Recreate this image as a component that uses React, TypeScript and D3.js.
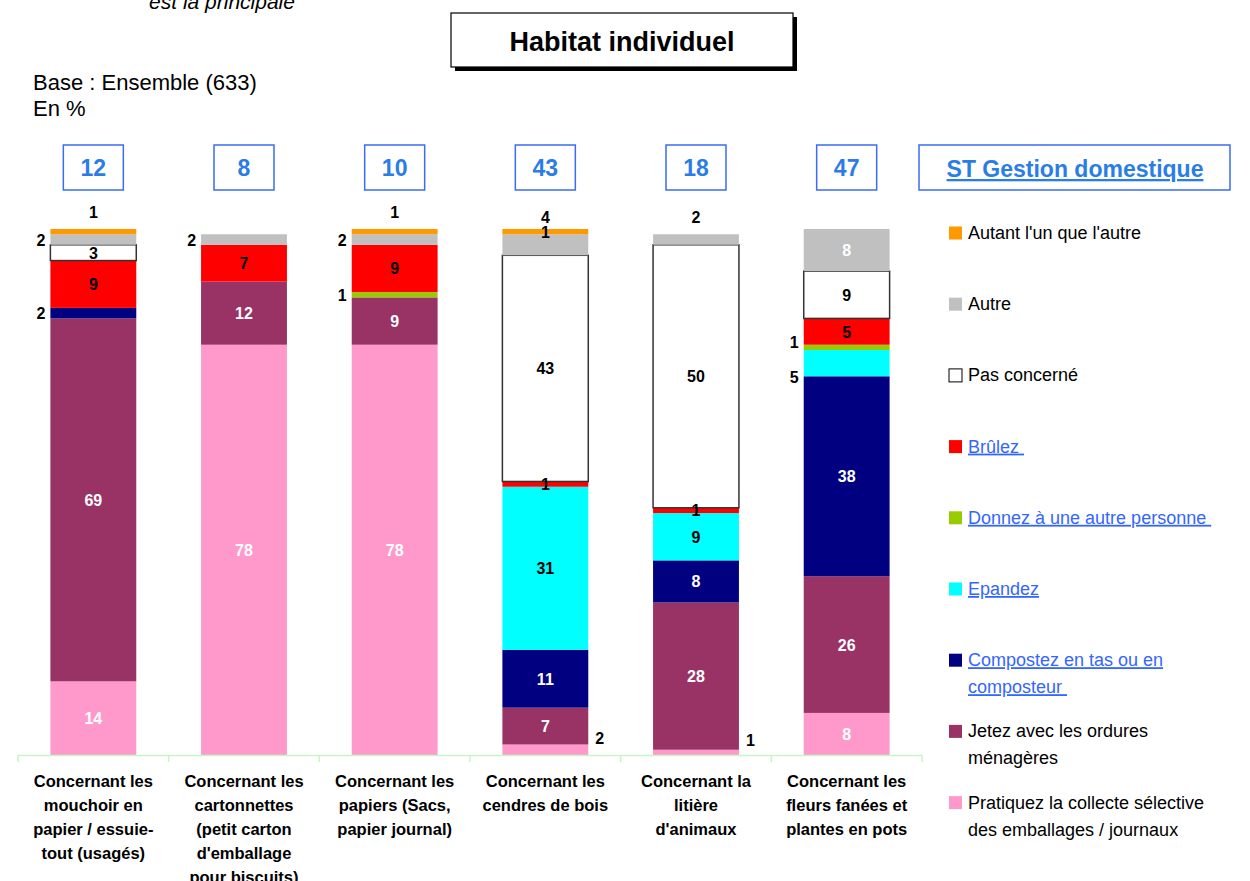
import React from 'react'
import * as d3 from 'd3'

// categories (x axis), one label line per entry
const categories = [
  ['Concernant les', 'mouchoir en', 'papier / essuie-', 'tout (usagés)'],
  ['Concernant les', 'cartonnettes', '(petit carton', "d'emballage", 'pour biscuits)'],
  ['Concernant les', 'papiers (Sacs,', 'papier journal)'],
  ['Concernant les', 'cendres de bois'],
  ['Concernant la', 'litière', "d'animaux"],
  ['Concernant les', 'fleurs fanées et', 'plantes en pots'],
]

// ST Gestion domestique values (boxes on top)
const stGestion = [12, 8, 10, 43, 18, 47]

// series values, stacked bottom -> top
const pratiquez = [14, 78, 78, 2, 1, 8]
const jetez = [69, 12, 9, 7, 28, 26]
const compostez = [2, 0, 0, 11, 8, 38]
const epandez = [0, 0, 0, 31, 9, 5]
const donnez = [0, 0, 1, 0, 0, 1]
const brulez = [9, 7, 9, 1, 1, 5]
const pasConcerne = [3, 0, 0, 43, 50, 9]
const autre = [2, 2, 2, 4, 2, 8]
const autant = [1, 0, 1, 1, 0, 0]

const seriesNames = [
  'Pratiquez la collecte sélective des emballages / journaux',
  'Jetez avec les ordures ménagères',
  'Compostez en tas ou en composteur ',
  'Epandez',
  'Donnez à une autre personne',
  'Brûlez ',
  'Pas concerné',
  'Autre',
  "Autant l'un que l'autre",
]
const seriesValues = [pratiquez, jetez, compostez, epandez, donnez, brulez, pasConcerne, autre, autant]
const colors = ['#ff99cc', '#993366', '#000080', '#00ffff', '#99cc00', '#ff0000', '#ffffff', '#c0c0c0', '#ff9900']
const labelColors = ['#fff', '#fff', '#fff', '#000', '#000', '#000', '#000', '#fff', '#000']
const linked = [false, false, true, true, true, true, false, false, false]

// legend, top -> bottom, with wrapped lines
const legendLines = [
  ["Autant l'un que l'autre"],
  ['Autre'],
  ['Pas concerné'],
  ['Brûlez '],
  ['Donnez à une autre personne '],
  ['Epandez'],
  ['Compostez en tas ou en', 'composteur '],
  ['Jetez avec les ordures', 'ménagères'],
  ['Pratiquez la collecte sélective', 'des emballages / journaux'],
]

// where the small labels sit: key "category-series"
const labelPlace: Record<string, { pos: string; dy?: number }> = {
  '0-2': { pos: 'left' }, '0-7': { pos: 'left' }, '0-8': { pos: 'above' },
  '1-7': { pos: 'left' },
  '2-4': { pos: 'left' }, '2-7': { pos: 'left' }, '2-8': { pos: 'above' },
  '3-0': { pos: 'right', dy: -12 }, '3-7': { pos: 'above' }, '3-8': { pos: 'inside' },
  '4-0': { pos: 'right', dy: -12 }, '4-7': { pos: 'above' },
  '5-3': { pos: 'left', dy: 14 }, '5-4': { pos: 'left', dy: -5 },
}

const FONT = "'Liberation Sans', Arial, Helvetica, sans-serif"
const BLUE = '#3a6cf4'
const BLUE_TXT = '#2a7de6'

export default function App() {
  const width = 1250
  const height = 881
  const x = d3.scaleBand<number>()
    .domain(d3.range(categories.length))
    .range([18, 922])
    .paddingInner(0.43)
    .paddingOuter(0.215)
  const y = d3.scaleLinear().domain([0, 100]).range([755, 229])

  const stackData = categories.map((_, i) => {
    const row: Record<string, number> = {}
    seriesValues.forEach((s, k) => { row['s' + k] = s[i] })
    return row
  })
  const stack = d3.stack<Record<string, number>>().keys(seriesValues.map((_, k) => 's' + k))
  const layers = stack(stackData)
  const step = x.step()
  const bw = x.bandwidth()

  return (
    <svg width={width} height={height} style={{ position: 'absolute', left: 0, top: 0, background: '#fff' }} fontFamily={FONT}>
      <text x={222} y={9} fontSize={21} fontStyle="italic" textAnchor="middle">est la principale</text>

      {/* title box */}
      <rect x={455} y={17} width={342} height={54} fill="#000" />
      <rect x={451} y={13} width={342} height={54} fill="#fff" stroke="#000" strokeWidth={1.2} />
      <text x={622} y={51} fontSize={27} fontWeight="bold" textAnchor="middle">Habitat individuel</text>

      <text x={33} y={90} fontSize={22}>Base : Ensemble (633)</text>
      <text x={33} y={116} fontSize={22}>En %</text>

      {/* ST boxes */}
      {stGestion.map((v, i) => {
        const cx = x(i)! + bw / 2
        return (
          <g key={'st' + i}>
            <rect x={cx - 30} y={145} width={60} height={45} fill="#fff" stroke={BLUE} strokeWidth={1.5} />
            <text x={cx} y={176} fontSize={23} fontWeight="bold" fill={BLUE_TXT} textAnchor="middle">{v}</text>
          </g>
        )
      })}
      <rect x={919} y={145} width={311} height={45} fill="#fff" stroke={BLUE} strokeWidth={1.5} />
      <text x={1075} y={177} fontSize={23} fontWeight="bold" fill={BLUE_TXT} textAnchor="middle" textDecoration="underline">ST Gestion domestique</text>

      {/* bars */}
      {layers.map((layer, k) => layer.map((d, i) => {
        const v = seriesValues[k][i]
        if (!v) return null
        return (
          <rect key={`b${k}-${i}`} x={x(i)} y={y(d[1])} width={bw} height={y(d[0]) - y(d[1])}
            fill={colors[k]} stroke={k === 6 ? '#333' : 'none'} strokeWidth={k === 6 ? 1.5 : 0} />
        )
      }))}

      {/* value labels */}
      {layers.map((layer, k) => layer.map((d, i) => {
        const v = seriesValues[k][i]
        if (!v) return null
        const place = labelPlace[`${i}-${k}`] || { pos: 'inside' }
        const cx = x(i)! + bw / 2
        const cy = (y(d[0]) + y(d[1])) / 2
        let tx = cx, ty = cy + 6, anchor = 'middle', fill = labelColors[k]
        if (place.pos === 'left') { tx = x(i)! - 5; anchor = 'end'; fill = '#000' }
        if (place.pos === 'right') { tx = x(i)! + bw + 7; anchor = 'start'; fill = '#000' }
        if (place.pos === 'above') { ty = y(d[1]) - 11; fill = '#000' }
        ty += place.dy || 0
        return (
          <text key={`l${k}-${i}`} x={tx} y={ty} fontSize={16} fontWeight="bold" fill={fill} textAnchor={anchor}>{v}</text>
        )
      }))}

      {/* x axis */}
      <line x1={18} x2={922} y1={755.5} y2={755.5} stroke="#c8f5c8" strokeWidth={1.5} />
      {d3.range(categories.length + 1).map(j => (
        <line key={'t' + j} x1={18 + j * step} x2={18 + j * step} y1={755} y2={762} stroke="#c8f5c8" strokeWidth={1.5} />
      ))}
      {categories.map((lines, i) => (
        <text key={'c' + i} x={x(i)! + bw / 2} fontSize={16.5} fontWeight="bold" textAnchor="middle">
          {lines.map((ln, j) => (
            <tspan key={j} x={x(i)! + bw / 2} y={787 + j * 24}>{ln}</tspan>
          ))}
        </text>
      ))}

      {/* legend */}
      {legendLines.map((lines, r) => {
        const k = seriesNames.length - 1 - r
        const yc = 233 + r * 71.2
        return (
          <g key={'lg' + r}>
            <rect x={949} y={yc - 6.5} width={13} height={13} fill={colors[k]} stroke={k === 6 ? '#000' : 'none'} strokeWidth={1} />
            {lines.map((ln, j) => (
              <text key={j} x={968} y={yc + 6 + j * 27} fontSize={18}
                fill={linked[k] ? '#3366ff' : '#000'} textDecoration={linked[k] ? 'underline' : 'none'}
                style={{ whiteSpace: 'pre' }}>{ln}</text>
            ))}
          </g>
        )
      })}
    </svg>
  )
}
